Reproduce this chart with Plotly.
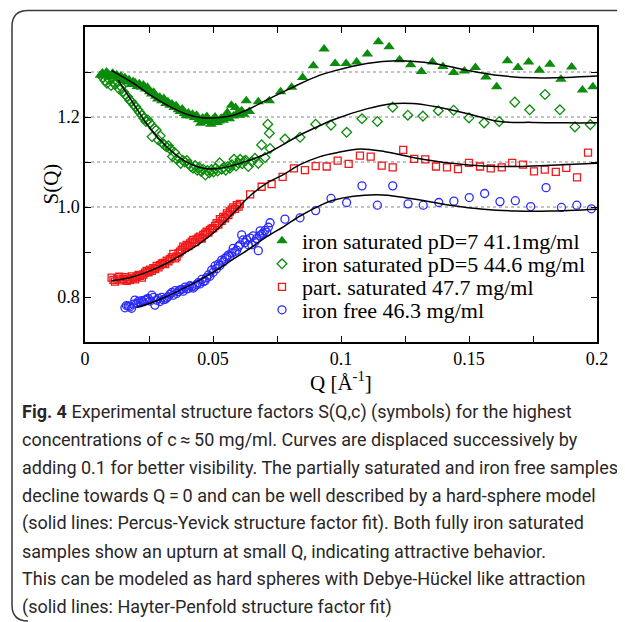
import plotly.graph_objects as go

# ---------------- data ----------------
# iron saturated pD=7 41.1 mg/ml (filled triangles)
q_tri = [0.0060,0.0068,0.0076,0.0084,0.0092,0.0100,0.0108,0.0116,0.0124,0.0132,0.0140,0.0148,0.0156,0.0164,0.0172,
         0.0180,0.0188,0.0196,0.0204,0.0212,0.0220,0.0228,0.0236,0.0244,0.0252,0.0260,0.0268,0.0276,0.0284,0.0292,
         0.0300,0.0308,0.0316,0.0324,0.0332,0.0340,0.0348,0.0356,0.0364,0.0372,0.0380,0.0388,0.0396,0.0404,0.0412,
         0.0420,0.0428,0.0436,0.0444,0.0452,0.0460,0.0468,0.0476,0.0484,0.0492,0.0500,0.0508,0.0516,0.0524,0.0532,
         0.0540,0.0548,0.0556,0.0564,0.0572,0.0580,0.0588,0.0596,0.0604,0.0612,0.0620,0.0630,0.0642,
         0.0677,0.0720,0.0764,0.0807,0.0850,0.0892,0.0934,0.0977,0.1020,0.1061,0.1103,0.1146,0.1188,0.1229,0.1272,
         0.1314,0.1357,0.1398,0.1440,0.1482,0.1525,0.1566,0.1608,0.1650,0.1691,0.1733,0.1775,0.1816,0.1859,0.1901,
         0.1943,0.1984]
s_tri = [1.293,1.298,1.291,1.300,1.295,1.289,1.297,1.290,1.294,1.285,1.291,1.281,1.287,1.278,1.283,
         1.272,1.279,1.276,1.268,1.274,1.266,1.271,1.262,1.266,1.256,1.251,1.255,1.246,1.240,1.244,
         1.236,1.241,1.230,1.234,1.226,1.229,1.221,1.225,1.216,1.212,1.218,1.208,1.203,1.209,1.202,
         1.206,1.199,1.204,1.194,1.186,1.198,1.190,1.201,1.193,1.184,1.195,1.200,1.188,1.191,1.197,
         1.193,1.200,1.210,1.196,1.226,1.202,1.221,1.210,1.204,1.214,1.206,1.236,1.212,
         1.234,1.236,1.256,1.266,1.288,1.314,1.351,1.319,1.319,1.322,1.340,1.367,1.356,1.327,1.316,
         1.301,1.322,1.312,1.299,1.302,1.310,1.289,1.267,1.325,1.310,1.322,1.304,1.317,1.284,1.311,
         1.260,1.267]

# iron saturated pD=5 44.6 mg/ml (open diamonds)
q_dia = [0.0070,0.0078,0.0086,0.0094,0.0102,0.0110,0.0118,0.0126,0.0134,0.0142,0.0150,0.0158,0.0166,0.0174,0.0182,
         0.0190,0.0198,0.0206,0.0214,0.0222,0.0230,0.0238,0.0246,0.0254,0.0262,0.0270,0.0278,0.0286,0.0294,0.0302,
         0.0310,0.0318,0.0326,0.0334,0.0342,0.0350,0.0358,0.0366,0.0374,0.0382,0.0390,0.0398,0.0406,0.0414,0.0422,
         0.0430,0.0438,0.0446,0.0454,0.0462,0.0470,0.0478,0.0486,0.0494,0.0502,0.0510,0.0518,0.0526,0.0534,0.0542,
         0.0550,0.0558,0.0566,0.0574,0.0582,0.0590,0.0598,0.0606,0.0614,0.0622,0.0628,0.0638,0.0651,0.0664,0.0677,
         0.0690,0.0703,0.0714,0.0720,0.0723,
         0.0781,0.0840,0.0901,0.0961,0.1022,0.1082,0.1142,0.1202,0.1261,0.1320,0.1380,0.1440,0.1500,0.1559,0.1618,
         0.1679,0.1737,0.1797,0.1855,0.1914,0.1974]
s_dia = [1.288,1.281,1.275,1.284,1.270,1.278,1.272,1.280,1.262,1.267,1.256,1.249,1.245,1.238,1.234,
         1.227,1.223,1.216,1.210,1.204,1.197,1.190,1.193,1.186,1.156,1.175,1.171,1.149,1.158,1.142,
         1.138,1.134,1.136,1.128,1.112,1.121,1.106,1.110,1.097,1.104,1.100,1.103,1.095,1.090,1.086,
         1.092,1.082,1.088,1.079,1.084,1.071,1.081,1.076,1.083,1.078,1.086,1.080,1.098,1.084,1.088,
         1.082,1.090,1.086,1.094,1.106,1.091,1.098,1.106,1.096,1.102,1.104,1.090,1.101,1.108,1.097,
         1.138,1.110,1.184,1.164,1.130,
         1.151,1.155,1.184,1.182,1.166,1.196,1.190,1.222,1.204,1.202,1.214,1.215,1.198,1.187,1.190,
         1.233,1.216,1.250,1.216,1.178,1.183]

# part. saturated 47.7 mg/ml (open squares)
q_sq = [0.0104,0.0111,0.0117,0.0126,0.0134,0.0142,0.0150,0.0157,0.0163,0.0170,0.0176,0.0183,0.0189,0.0196,0.0202,
        0.0209,0.0215,0.0222,0.0228,0.0235,0.0241,0.0248,0.0254,0.0261,0.0267,0.0274,0.0280,0.0287,0.0293,0.0300,
        0.0306,0.0313,0.0319,0.0326,0.0332,0.0339,0.0345,0.0352,0.0358,0.0365,0.0371,0.0378,0.0384,0.0391,0.0397,
        0.0404,0.0410,0.0417,0.0423,0.0430,0.0436,0.0443,0.0449,0.0456,0.0462,0.0469,0.0475,0.0482,0.0488,0.0495,
        0.0501,0.0508,0.0514,0.0521,0.0527,0.0534,0.0540,0.0547,0.0554,0.0560,0.0566,0.0573,0.0579,0.0586,0.0593,
        0.0600,0.0605,0.0645,0.0690,0.0729,
        0.0772,0.0816,0.0859,0.0901,0.0944,0.0987,0.1030,0.1074,0.1116,0.1159,0.1202,0.1243,0.1286,0.1329,0.1371,
        0.1414,0.1457,0.1500,0.1543,0.1585,0.1628,0.1669,0.1711,0.1754,0.1796,0.1839,0.1880,0.1922,0.1965]
s_sq = [0.843,0.838,0.834,0.841,0.845,0.837,0.840,0.844,0.836,0.841,0.838,0.846,0.842,0.839,0.845,
        0.849,0.847,0.843,0.850,0.854,0.858,0.855,0.861,0.858,0.864,0.862,0.869,0.866,0.871,0.874,
        0.876,0.873,0.881,0.879,0.884,0.888,0.896,0.886,0.890,0.897,0.901,0.905,0.912,0.909,0.916,
        0.913,0.919,0.923,0.927,0.922,0.928,0.932,0.934,0.930,0.938,0.941,0.945,0.943,0.949,0.952,
        0.953,0.958,0.964,0.961,0.973,0.969,0.978,0.975,0.986,0.982,0.990,0.994,0.999,0.996,1.004,
        1.001,1.007,1.028,1.045,1.051,
        1.067,1.086,1.082,1.091,1.090,1.103,1.096,1.114,1.112,1.092,1.088,1.127,1.107,1.106,1.090,
        1.088,1.084,1.098,1.090,1.086,1.088,1.098,1.094,1.079,1.083,1.078,1.087,1.066,1.121]

# iron free 46.3 mg/ml (open circles)
q_ci = [0.0156,0.0162,0.0169,0.0175,0.0182,0.0189,0.0195,0.0202,0.0208,0.0215,0.0221,0.0228,0.0234,0.0241,0.0247,
        0.0254,0.0261,0.0267,0.0273,0.0280,0.0286,0.0293,0.0300,0.0306,0.0313,0.0319,0.0325,0.0332,0.0339,0.0345,
        0.0352,0.0358,0.0364,0.0371,0.0378,0.0384,0.0391,0.0397,0.0404,0.0410,0.0417,0.0423,0.0430,0.0436,0.0443,
        0.0449,0.0456,0.0462,0.0469,0.0475,0.0482,0.0488,0.0495,0.0501,0.0508,0.0514,0.0521,0.0527,0.0534,0.0540,
        0.0547,0.0553,0.0560,0.0566,0.0573,0.0579,0.0586,0.0593,0.0599,0.0605,0.0612,0.0618,0.0625,0.0632,0.0638,
        0.0645,0.0651,0.0657,0.0664,0.0670,0.0677,0.0681,0.0684,0.0690,0.0696,0.0703,0.0710,0.0716,0.0723,
        0.0781,0.0840,0.0901,0.0961,0.1022,0.1082,0.1142,0.1202,0.1262,0.1321,0.1382,0.1441,0.1501,0.1561,0.1621,
        0.1681,0.1741,0.1801,0.1861,0.1921,0.1978]
s_ci = [0.776,0.781,0.780,0.778,0.775,0.784,0.793,0.786,0.790,0.787,0.792,0.789,0.793,0.795,0.797,
        0.791,0.804,0.799,0.782,0.793,0.797,0.790,0.799,0.794,0.795,0.798,0.801,0.806,0.810,0.804,
        0.814,0.808,0.812,0.816,0.817,0.813,0.822,0.818,0.819,0.825,0.823,0.820,0.824,0.828,0.832,
        0.829,0.839,0.834,0.836,0.843,0.849,0.846,0.860,0.855,0.869,0.863,0.873,0.870,0.882,0.878,
        0.886,0.889,0.893,0.890,0.898,0.908,0.901,0.904,0.912,0.916,0.938,0.927,0.921,0.927,0.916,
        0.931,0.916,0.936,0.923,0.930,0.903,0.936,0.947,0.939,0.942,0.948,0.944,0.955,0.965,
        0.973,0.976,0.992,1.019,1.010,1.047,1.004,1.047,1.007,1.004,1.010,1.013,1.021,1.030,1.012,
        1.014,1.001,1.043,0.999,1.004,0.996]

# fit curves (solid black lines)
q_fit1 = [0.0104,0.0189,0.0254,0.0319,0.0397,0.0462,0.0527,0.0579,0.0645,0.0710,0.0775,0.0840,0.0918,0.0970,
          0.1100,0.1218,0.1361,0.1491,0.1621,0.1751,0.1882,0.2000]
s_fit1 = [1.303,1.275,1.249,1.227,1.206,1.198,1.199,1.204,1.219,1.238,1.256,1.274,1.293,1.302,
          1.319,1.325,1.319,1.304,1.292,1.287,1.288,1.291]
q_fit2 = [0.0130,0.0189,0.0254,0.0319,0.0384,0.0462,0.0527,0.0605,0.0710,0.0840,0.0918,0.0970,0.1100,0.1191,
          0.1280,0.1359,0.1491,0.1621,0.1750,0.1882,0.2000]
s_fit2 = [1.282,1.230,1.175,1.134,1.104,1.086,1.086,1.097,1.119,1.160,1.181,1.194,1.218,1.229,
          1.230,1.224,1.208,1.190,1.188,1.187,1.187]
q_fit3 = [0.0104,0.0189,0.0254,0.0319,0.0384,0.0449,0.0514,0.0579,0.0645,0.0710,0.0775,0.0840,0.0918,0.0987,
          0.1074,0.1172,0.1302,0.1432,0.1562,0.1692,0.1822,0.2000]
s_fit3 = [0.836,0.845,0.858,0.875,0.896,0.919,0.949,0.986,1.025,1.053,1.072,1.094,1.112,1.121,
          1.129,1.123,1.108,1.097,1.091,1.090,1.093,1.097]
q_fit4 = [0.0202,0.0254,0.0319,0.0384,0.0449,0.0514,0.0579,0.0645,0.0710,0.0775,0.0840,0.0918,0.0969,0.1137,
          0.1270,0.1426,0.1556,0.1686,0.1816,0.2000]
s_fit4 = [0.777,0.786,0.801,0.819,0.838,0.860,0.884,0.908,0.934,0.956,0.980,1.003,1.015,1.027,
          1.019,1.004,0.995,0.991,0.991,0.995]

legend_names = ["iron saturated pD=7 41.1mg/ml", "iron saturated pD=5 44.6 mg/ml",
                "part. saturated 47.7 mg/ml", "iron free 46.3 mg/ml"]

x_tickvals = [0, 0.05, 0.1, 0.15, 0.2]
x_ticktext = ["0", "0.05", "0.1", "0.15", "0.2"]
y_tickvals = [0.8, 1.0, 1.2]
y_ticktext = ["0.8", "1.0", "1.2"]
grid_levels = [1.0, 1.1, 1.2, 1.3]

caption_lines = [
    "<b>Fig. 4</b> Experimental structure factors S(Q,c) (symbols) for the highest",
    "concentrations of c\u2009\u2248\u200950 mg/ml. Curves are displaced successively by",
    "adding 0.1 for better visibility. The partially saturated and iron free samples",
    "decline towards Q\u2009=\u20090 and can be well described by a hard-sphere model",
    "(solid lines: Percus-Yevick structure factor fit). Both fully iron saturated",
    "samples show an upturn at small Q, indicating attractive behavior.",
    "This can be modeled as hard spheres with Debye-H\u00fcckel like attraction",
    "(solid lines: Hayter-Penfold structure factor fit)",
]

# ---------------- figure ----------------
# the page body has an 8px margin, so the figure is placed at (8, 8) in the window
OFF = 8
W, H = 625 - OFF, 622 - OFF
ML, MR, MT, MB = 85 - OFF, W - (597 - OFF), 27 - OFF, H - (342 - OFF)
PW, PH = W - ML - MR, H - MT - MB

def px_x(px):  # window pixel -> paper x
    return (px - OFF - ML) / PW

def px_y(py):  # window pixel -> paper y
    return (H - MB - (py - OFF)) / PH

GREEN = "#0c8c0c"
RED = "#f01818"
BLUE = "#2a2aff"
SERIF = "Liberation Serif"
legend_ids = ["legend", "legend2", "legend3", "legend4"]
legend_rows = [241, 264, 287, 310]

fig = go.Figure()
fig.add_trace(go.Scatter(x=q_tri, y=s_tri, mode="markers", name=legend_names[0], legend=legend_ids[0],
                         marker=dict(symbol="triangle-up", size=10, color=GREEN, line=dict(width=0))))
fig.add_trace(go.Scatter(x=q_dia, y=s_dia, mode="markers", name=legend_names[1], legend=legend_ids[1],
                         marker=dict(symbol="diamond-open", size=7.5, color=GREEN, line=dict(width=1.3, color=GREEN))))
fig.add_trace(go.Scatter(x=q_sq, y=s_sq, mode="markers", name=legend_names[2], legend=legend_ids[2],
                         marker=dict(symbol="square-open", size=7, color=RED, line=dict(width=1.3, color=RED))))
fig.add_trace(go.Scatter(x=q_ci, y=s_ci, mode="markers", name=legend_names[3], legend=legend_ids[3],
                         marker=dict(symbol="circle-open", size=8, color=BLUE, line=dict(width=1.3, color=BLUE))))
for qf, sf in [(q_fit1, s_fit1), (q_fit2, s_fit2), (q_fit3, s_fit3), (q_fit4, s_fit4)]:
    fig.add_trace(go.Scatter(x=qf, y=sf, mode="lines", showlegend=False, hoverinfo="skip",
                             line=dict(color="black", width=1.5, shape="spline", smoothing=1.0)))

# dotted horizontal grid lines (only at 1.0 ... 1.3)
for g in grid_levels:
    fig.add_shape(type="line", xref="paper", yref="y", x0=0, x1=1, y0=g, y1=g,
                  line=dict(color="#888888", width=1, dash="dot"), layer="below")

# rounded frame around figure + caption
r = 16
path = (f"M {px_x(12 + r)},{px_y(621)} Q {px_x(12)},{px_y(621)} {px_x(12)},{px_y(621 - r)} "
        f"L {px_x(12)},{px_y(10.5 + r)} "
        f"Q {px_x(12)},{px_y(10.5)} {px_x(12 + r)},{px_y(10.5)} L {px_x(660)},{px_y(10.5)}")
fig.add_shape(type="path", xref="paper", yref="paper", path=path,
              line=dict(color="#3a3a3a", width=1.5))

# caption
for i, line in enumerate(caption_lines):
    fig.add_annotation(text=line, xref="paper", yref="paper", x=px_x(20), y=px_y(412 + i * 27.8),
                       xanchor="left", yanchor="middle", showarrow=False,
                       font=dict(family="Roboto", size=18, color="#2a2627"))

# axis titles
fig.add_annotation(text="S(Q)", xref="paper", yref="paper", x=px_x(50), y=0.5, textangle=-90,
                   xanchor="center", yanchor="middle", showarrow=False,
                   font=dict(family=SERIF, size=21, color="black"))
fig.add_annotation(text="Q [\u00c5<sup>-1</sup>]", xref="paper", yref="paper", x=0.5, y=px_y(381),
                   xanchor="center", yanchor="middle", showarrow=False,
                   font=dict(family=SERIF, size=21, color="black"))

axis_common = dict(showline=True, linecolor="black", linewidth=1.5, mirror="ticks",
                   ticks="inside", ticklen=6, tickwidth=1.2, tickcolor="black",
                   showgrid=False, zeroline=False,
                   tickfont=dict(family=SERIF, size=18, color="black"))

legend_layout = {}
for lid, row in zip(legend_ids, legend_rows):
    legend_layout[lid] = dict(x=px_x(262), y=px_y(row), xanchor="left", yanchor="middle",
                              bgcolor="rgba(0,0,0,0)", borderwidth=0,
                              font=dict(family=SERIF, size=22, color="black"), itemwidth=30)

fig.update_layout(
    width=W, height=H,
    margin=dict(l=ML, r=MR, t=MT, b=MB),
    paper_bgcolor="white", plot_bgcolor="white",
    showlegend=True,
    xaxis=dict(range=[0, 0.2], tickvals=x_tickvals, ticktext=x_ticktext,
               minor=dict(dtick=0.025, tick0=0, ticks="inside", ticklen=6, tickcolor="black"),
               **axis_common),
    yaxis=dict(range=[0.7, 1.4], tickvals=y_tickvals, ticktext=y_ticktext,
               minor=dict(dtick=0.1, tick0=0.7, ticks="inside", ticklen=6, tickcolor="black"),
               **axis_common),
    **legend_layout,
)

fig.write_html("out.html")
